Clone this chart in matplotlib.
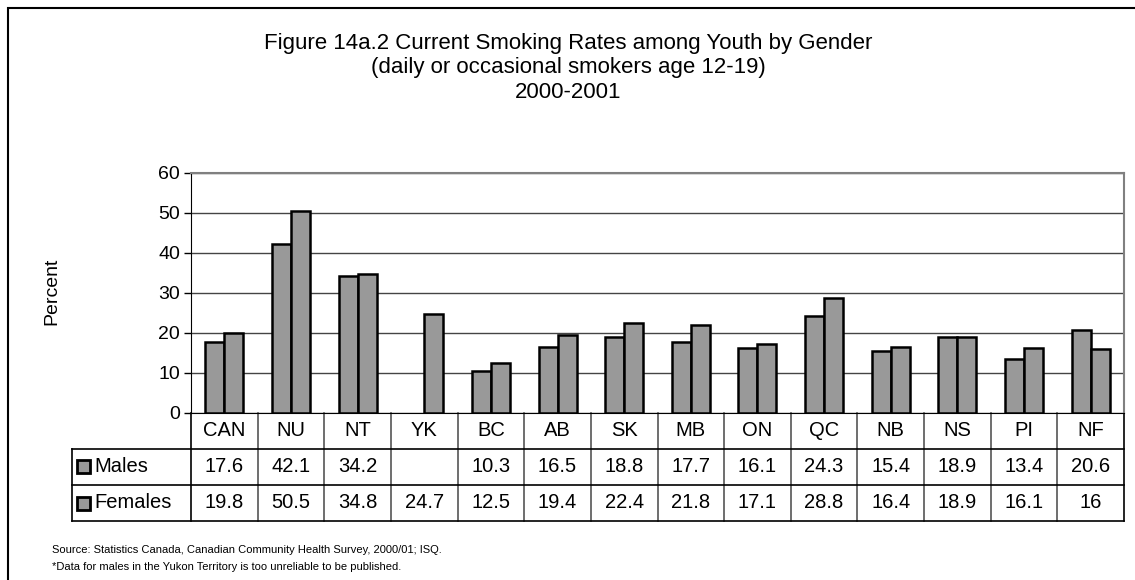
import numpy as np
import matplotlib.pyplot as plt
from matplotlib.patches import Rectangle

plt.rcParams['font.family'] = ['Liberation Sans', 'DejaVu Sans']

regions = ["CAN", "NU", "NT", "YK", "BC", "AB", "SK", "MB", "ON", "QC", "NB", "NS", "PI", "NF"]
males = [17.6, 42.1, 34.2, None, 10.3, 16.5, 18.8, 17.7, 16.1, 24.3, 15.4, 18.9, 13.4, 20.6]
females = [19.8, 50.5, 34.8, 24.7, 12.5, 19.4, 22.4, 21.8, 17.1, 28.8, 16.4, 18.9, 16.1, 16]
male_labels = ["17.6", "42.1", "34.2", "", "10.3", "16.5", "18.8", "17.7", "16.1", "24.3", "15.4", "18.9", "13.4", "20.6"]
female_labels = ["19.8", "50.5", "34.8", "24.7", "12.5", "19.4", "22.4", "21.8", "17.1", "28.8", "16.4", "18.9", "16.1", "16"]

W, H = 1135, 580
fig = plt.figure(figsize=(W / 100, H / 100), dpi=100)

# outer frame (runs off the right and bottom edges)
fig.patches.append(Rectangle((8 / W, -0.1), 1.2, 1 - 8 / H + 0.1, transform=fig.transFigure,
                             fill=False, edgecolor='black', linewidth=1.5))

ax_top, ax_bot = 173, 412.5
ax = fig.add_axes([191 / W, 1 - ax_bot / H, (1124 - 191) / W, (ax_bot - ax_top) / H])
n = len(regions)
x = np.arange(n)
bw = 0.285
gray = '#999999'
m_vals = np.array([np.nan if v is None else v for v in males], dtype=float)
ax.bar(x - bw / 2, np.nan_to_num(m_vals), bw, color=gray, edgecolor='black', linewidth=1.8,
       zorder=3)
ax.bar(x + bw / 2, females, bw, color=gray, edgecolor='black', linewidth=1.8, zorder=3)
# no bar for YK males
for p, v in zip(ax.patches[:n], m_vals):
    if np.isnan(v):
        p.set_visible(False)

ax.set_xlim(-0.5, n - 0.5)
ax.set_ylim(0, 60)
ax.set_yticks(range(0, 61, 10))
ax.yaxis.grid(True, color='#444444', linewidth=1.0, zorder=0)
ax.set_xticks([])
ax.tick_params(axis='y', labelsize=14, length=5, width=1, pad=3)
for s in ['top', 'right']:
    ax.spines[s].set_color('#808080')
    ax.spines[s].set_linewidth(1.5)
ax.spines['left'].set_color('black')
ax.spines['bottom'].set_color('black')
fig.text(52 / W, 1 - 291 / H, "Percent", rotation=90, ha='center', va='center', fontsize=14)

# data table under the plot
tr = ax.transData
px_y = 60 / (ax_bot - ax_top)
unit = 933 / n
row_h = 36.2 * px_y
ys = [0, -row_h, -2 * row_h, -3 * row_h]
lc = dict(color='black', linewidth=1.2, clip_on=False, transform=tr)
lc_gray = dict(color='#555555', linewidth=1.2, clip_on=False, transform=tr)
x_left = -0.5 - (191 - 72) / unit
for i in range(n + 1):
    ax.plot([i - 0.5, i - 0.5], [0, ys[3]], **(lc if i in (0, n) else lc_gray))
for y in ys[1:]:
    ax.plot([x_left, n - 0.5], [y, y], **lc)
ax.plot([x_left, x_left], [ys[1], ys[3]], **lc)

fs = 14.5
for i in range(n):
    ax.text(i, (ys[0] + ys[1]) / 2, regions[i], ha='center', va='center', fontsize=fs,
            clip_on=False)
    ax.text(i, (ys[1] + ys[2]) / 2, male_labels[i], ha='center', va='center', fontsize=fs,
            clip_on=False)
    ax.text(i, (ys[2] + ys[3]) / 2, female_labels[i], ha='center', va='center', fontsize=fs,
            clip_on=False)

for k, name in enumerate(["Males", "Females"]):
    yc = (ys[k + 1] + ys[k + 2]) / 2
    kx = x_left + 5 / unit
    ksz = 13 / unit
    kh = 13 * px_y
    ax.add_patch(Rectangle((kx, yc - kh / 2), ksz, kh, facecolor=gray, edgecolor='black',
                           linewidth=2, clip_on=False, transform=tr))
    ax.text(kx + ksz + 4 / unit, yc, name, ha='left', va='center', fontsize=fs, clip_on=False)

fig.text(568 / W, 1 - 43 / H, "Figure 14a.2 Current Smoking Rates among Youth by Gender",
         ha='center', va='center', fontsize=16)
fig.text(568 / W, 1 - 68 / H, "(daily or occasional smokers age 12-19)",
         ha='center', va='center', fontsize=16)
fig.text(568 / W, 1 - 93 / H, "2000-2001", ha='center', va='center', fontsize=16)

fig.text(52 / W, 1 - 550 / H, "Source: Statistics Canada, Canadian Community Health Survey, 2000/01; ISQ.",
         ha='left', va='center', fontsize=8)
fig.text(52 / W, 1 - 567 / H, "*Data for males in the Yukon Territory is too unreliable to be published.",
         ha='left', va='center', fontsize=8)

fig.savefig("out.png", dpi=100)
